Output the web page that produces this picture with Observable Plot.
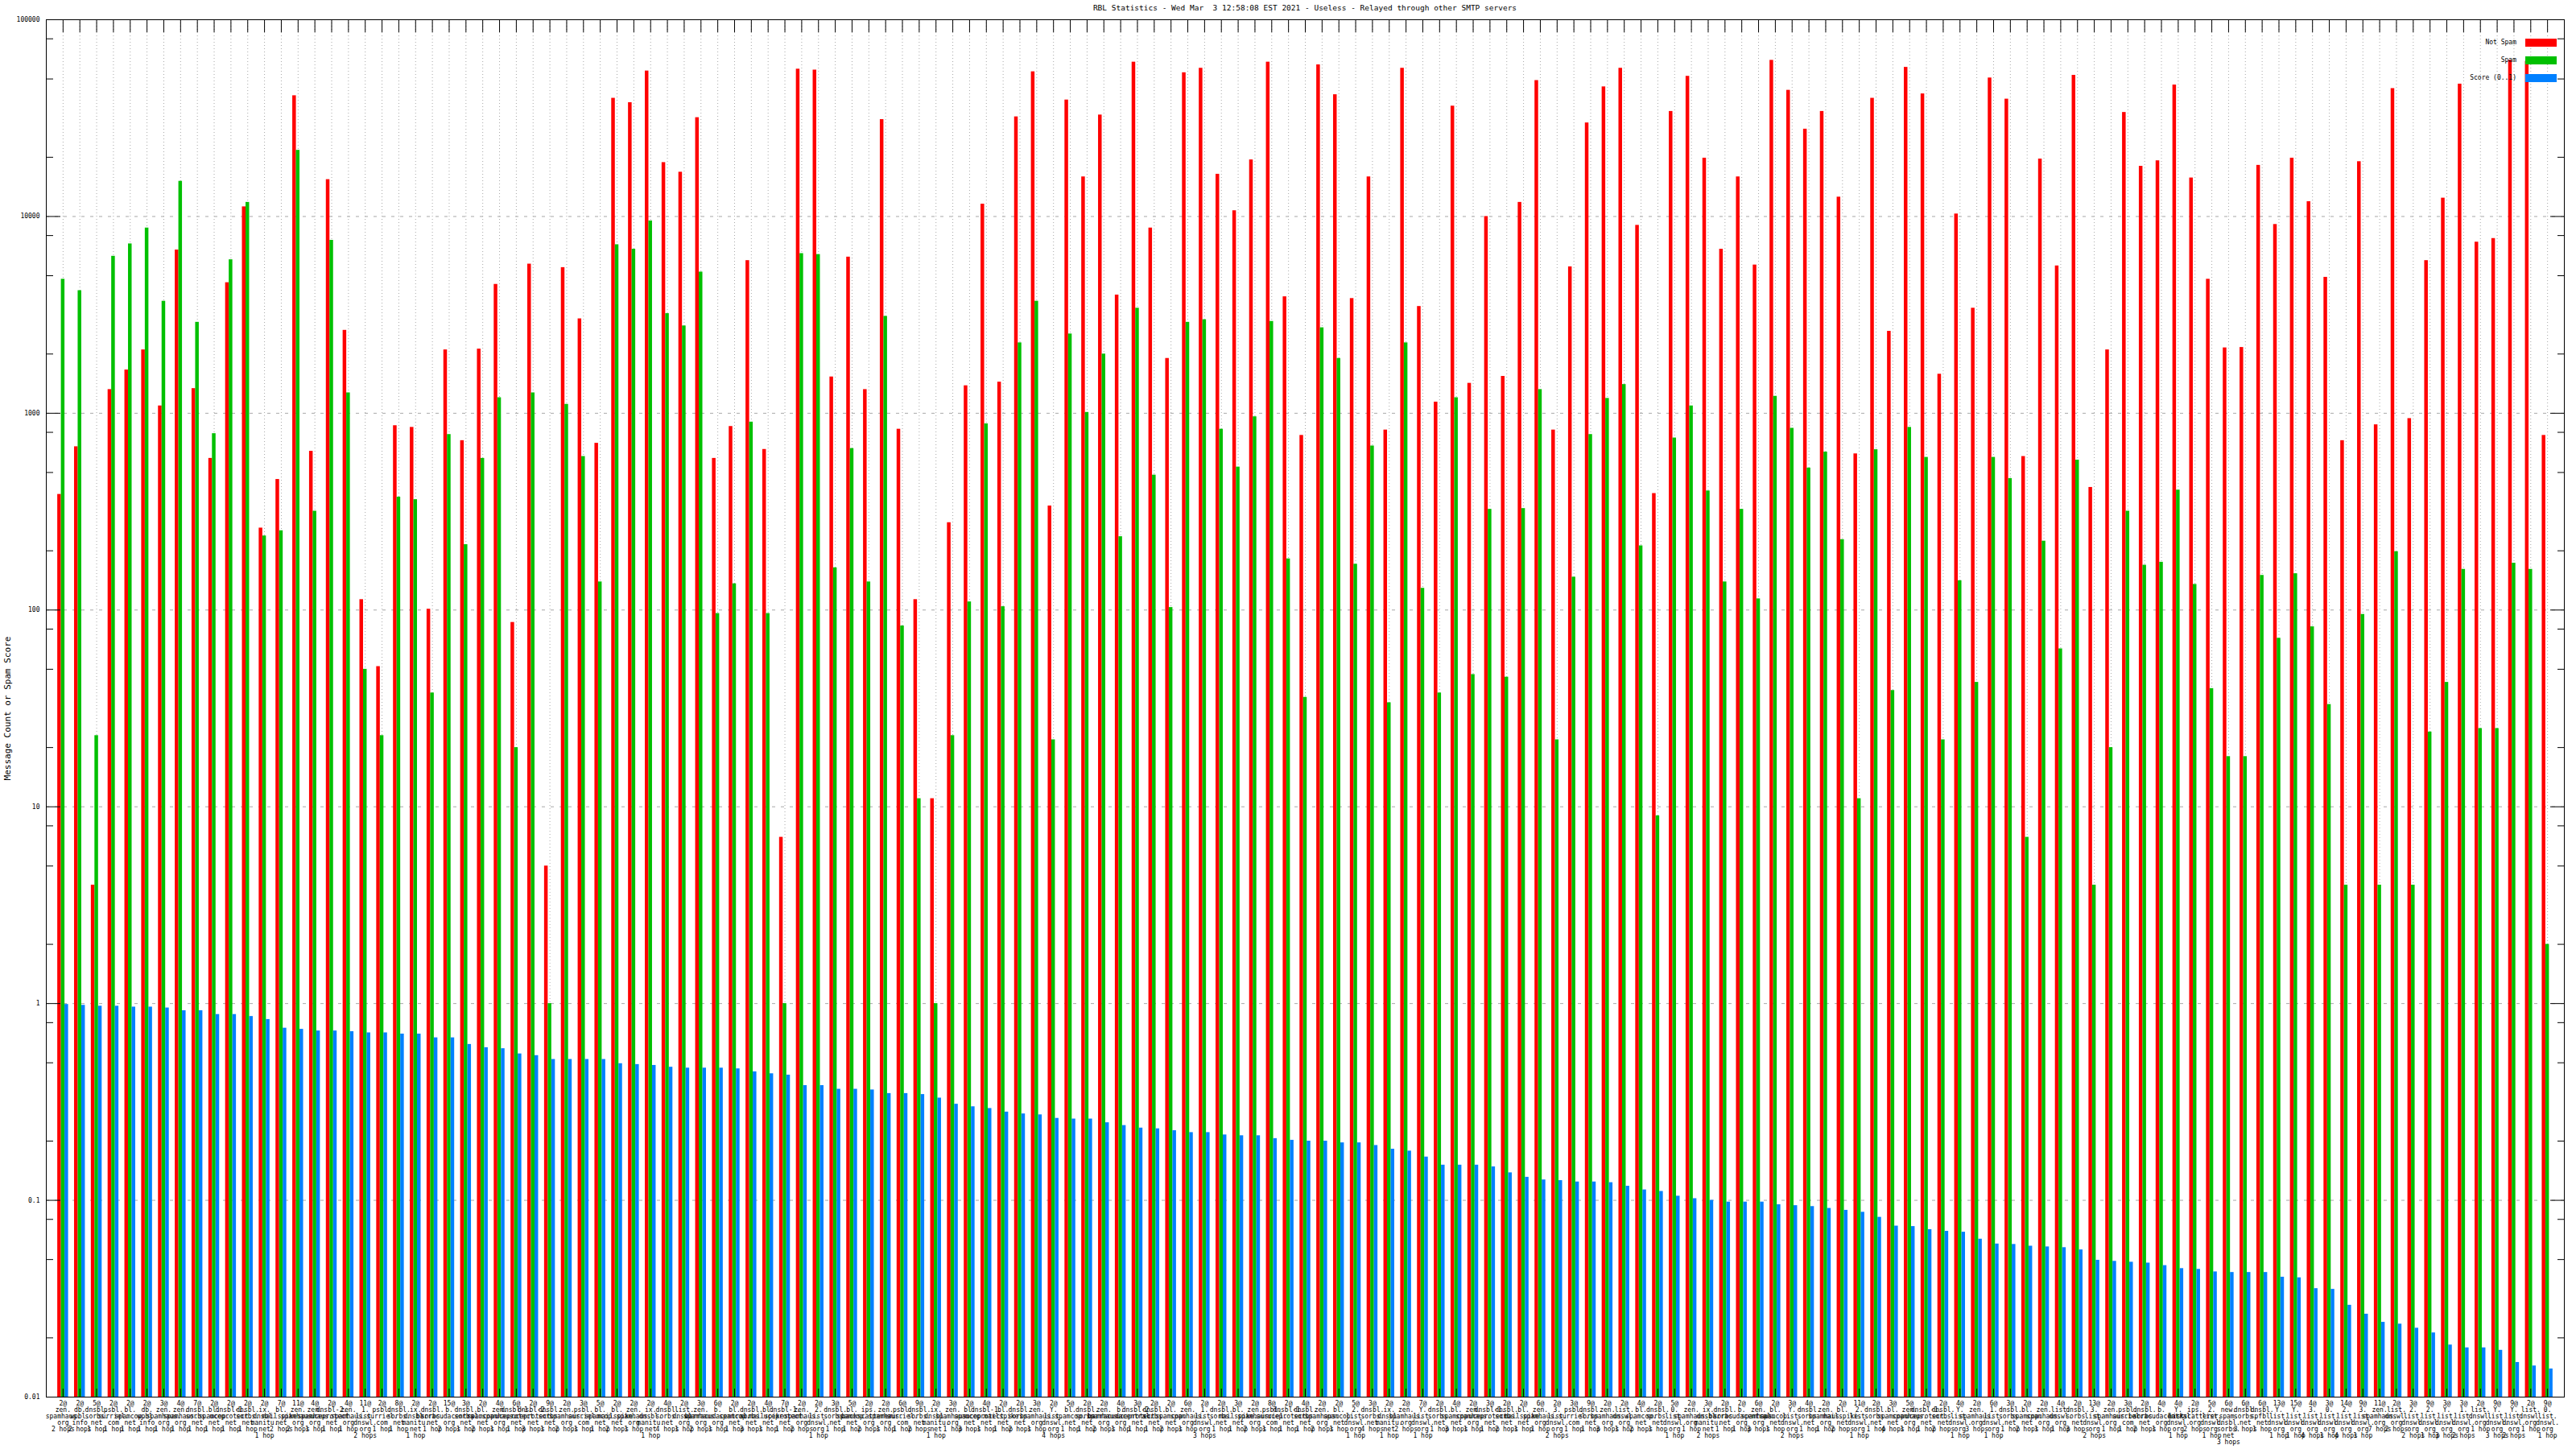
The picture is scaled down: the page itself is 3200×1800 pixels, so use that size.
<!DOCTYPE html>
<html><head><meta charset="utf-8">
<script src="https://cdn.jsdelivr.net/npm/d3@7"></script>
<script src="https://cdn.jsdelivr.net/npm/@observablehq/plot@0.6"></script>
<style>
html,body{margin:0;padding:0;background:#fff;}
#wrap{position:relative;width:3200px;height:1800px;font-family:"DejaVu Sans Mono",monospace;color:#000;overflow:hidden;}
#title{position:absolute;left:57px;width:3128px;top:4px;text-align:center;font-size:9.5px;line-height:12px;white-space:pre;}
#ylabel{position:absolute;left:9px;top:880px;transform:translate(-50%,-50%) rotate(-90deg);font-size:11px;white-space:nowrap;}
#legend{position:absolute;left:0;top:0;}
.lrow{position:absolute;height:10px;}
.ltext{position:absolute;right:50px;top:-1px;font-size:8px;line-height:12px;white-space:pre;text-align:right;}
.lsw{position:absolute;right:0;top:0;width:39px;height:10px;}
#chart svg{display:block;}
</style></head>
<body><div id="wrap"><div id="chart"></div><div id="title"></div><div id="ylabel"></div><div id="legend"></div></div>
<script>
const titleText = "RBL Statistics - Wed Mar  3 12:58:08 EST 2021 - Useless - Relayed through other SMTP servers";
const yLabelText = "Message Count or Spam Score";
const seriesNames = ["Not Spam", "Spam", "Score (0..1)"];
const seriesColors = ["#ff0000", "#00c000", "#0080ff"];
const yMajorTicks = [0.01, 0.1, 1, 10, 100, 1000, 10000, 100000];
const yMinorMultipliers = [2, 5, 8];

const notSpam = [387,676,4,1320,1660,2100,1090,6760,1335,590,4610,11200,261,461,41100,641,15400,2640,113,51.6,865,848,101,2100,726,
2120,4520,86.5,5730,5,5500,3020,704,39900,37900,54900,18800,16800,31800,590,857,5970,655,7,56100,55500,1530,6220,1320,31100,
830,113,11,278,1380,11560,1440,32100,54400,338,39100,15900,32800,3990,60900,8740,1900,53800,56700,16400,10700,19400,60900,3910,772,
59000,41600,3830,15900,822,56700,3490,1140,36400,1420,10000,1540,11800,49100,822,5550,29900,45600,56700,9020,391,34200,51600,19800,6820,
15900,5670,62200,43800,27800,34200,12550,622,39900,2610,57300,42000,1580,10300,3420,50600,39500,603,19600,5610,52200,420,2100,33800,18000,
19200,46600,15700,4800,2150,2160,18200,9110,19800,11900,4910,726,19000,874,44700,940,5970,12400,47100,7410,7730,62200,61500,772];

const spam = [4800,4200,23,6280,7260,8740,3710,15100,2900,788,6030,11800,238,253,21700,318,7570,1270,50,23,375,364,37.9,780,215,
590,1200,20,1270,1,1110,603,139,7190,6820,9500,3210,2780,5220,96,136,902,96,1,6480,6410,164,662,139,3110,
83,11,1,23,110,884,104,2280,3710,21.9,2530,1010,2000,236,3420,485,103,2900,2990,830,533,960,2930,182,36,
2720,1900,171,682,33.8,2280,129,37.9,1200,47,325,45.6,328,1320,21.9,147,780,1190,1400,212,9,749,1090,403,139,
325,114,1220,839,527,635,228,11,653,39,848,597,21.9,141,42.9,597,466,7,224,63.5,578,4,20,318,169,
175,407,135,39.9,18,18,150,71.9,153,82.2,33.1,4,95,4,198,4,24,42.9,161,25,25,173,161,2];

const score = [0.99,0.98,0.97,0.97,0.96,0.96,0.95,0.92,0.92,0.88,0.88,0.86,0.83,0.75,0.74,0.726,0.726,0.72,0.71,0.71,0.70,0.70,0.67,0.67,0.62,
0.597,0.59,0.555,0.544,0.52,0.52,0.52,0.52,0.495,0.49,0.485,0.475,0.47,0.47,0.47,0.466,0.45,0.44,0.433,0.383,0.383,0.367,0.367,0.364,0.349,
0.349,0.345,0.331,0.308,0.299,0.293,0.281,0.275,0.272,0.261,0.259,0.259,0.248,0.24,0.233,0.231,0.226,0.221,0.221,0.215,0.213,0.213,0.206,0.202,0.20,
0.20,0.196,0.196,0.19,0.182,0.178,0.166,0.151,0.151,0.151,0.148,0.138,0.131,0.127,0.126,0.124,0.124,0.123,0.118,0.113,0.111,0.105,0.102,0.10,0.098,
0.098,0.098,0.095,0.094,0.093,0.091,0.089,0.087,0.082,0.074,0.0736,0.071,0.0696,0.0689,0.0635,0.060,0.0597,0.0585,0.058,0.0575,0.056,0.0496,0.049,0.0485,0.048,
0.0466,0.045,0.0446,0.0433,0.043,0.043,0.043,0.0407,0.0404,0.0356,0.0353,0.0293,0.0264,0.024,0.0235,0.0224,0.0212,0.0184,0.0178,0.0178,0.0173,0.015,0.0144,0.0139];

// x tick label parts
const rblNames = ["zen.spamhaus.org","db.wpbl.info","dnsbl.sorbs.net","psbl.surriel.com","bl.spamcop.net","b.barracudacentral.org","dnsbl-1.uceprotect.net","dnsbl-2.uceprotect.net","ix.dnsbl.manitu.net","bl.mailspike.net","ips.backscatterer.org","list.dnswl.org","Y.list.dnswl.org","2.list.dnswl.org","3.list.dnswl.org","0.list.dnswl.org","1.list.dnswl.org","new.spam.dnsbl.sorbs.net","dnsbl.spfbl.net","hostkarma.junkemailfilter.com"];
const rblIndex = [0,1,2,3,4,1,0,0,2,4,6,2,8,9,0,0,7,0,16,3,2,8,2,5,
2,4,0,6,7,2,0,3,4,9,0,8,2,11,0,5,4,2,9,6,0,13,2,4,10,
0,3,2,8,0,4,6,9,2,0,12,4,2,0,5,7,2,4,0,16,2,9,0,3,6,
2,0,4,13,2,8,0,12,2,4,0,6,2,9,0,14,3,2,0,11,4,2,15,0,8,
2,5,0,4,12,2,0,9,13,2,4,0,6,2,12,0,16,2,4,0,11,2,14,0,3,2,5,
12,10,13,17,2,18,12,12,14,15,13,14,0,11,13,13,12,16,11,12,12,11,15];
const atCounts = [2,2,5,2,2,2,3,4,7,2,2,2,2,7,11,4,2,4,11,2,8,2,2,15,
3,2,4,6,2,9,2,3,5,2,2,2,4,2,3,6,2,2,4,7,2,2,3,5,2,
2,6,9,2,3,2,4,2,2,3,2,5,2,2,4,3,2,2,6,2,2,3,2,8,2,
4,2,2,5,3,2,2,7,2,4,2,3,2,2,6,2,3,9,2,2,4,2,5,2,3,
2,2,6,2,3,4,2,2,11,2,3,5,2,2,4,2,6,3,2,2,4,2,13,2,3,2,4,
4,2,5,6,6,6,13,15,4,3,14,9,11,2,3,9,3,3,2,9,9,2,9];
const hopCounts = [2,2,1,1,1,1,1,1,1,1,1,1,1,2,2,1,1,1,2,1,1,1,1,2,
1,2,1,1,3,1,2,1,1,2,1,1,4,1,2,1,1,3,1,1,2,1,1,1,2,
1,1,2,1,1,3,1,1,2,1,4,1,1,2,1,1,1,2,1,3,1,1,2,1,1,
1,2,1,1,4,1,2,1,1,3,1,1,2,1,1,2,1,1,3,1,2,1,1,1,2,
1,1,3,1,2,1,1,2,1,1,4,1,1,2,1,3,1,1,2,1,1,3,2,1,1,2,1,
1,2,1,3,3,1,1,1,4,1,4,1,7,2,2,1,3,2,1,3,2,1,1];

const n = notSpam.length;
const idx = d3.range(n);
const xLabels = idx.map(i => {
  const parts = rblNames[rblIndex[i]].split(".").map((p, j, a) => j < a.length - 1 ? p + "." : p);
  const h = hopCounts[i] === 1 ? "1 hop" : hopCounts[i] + " hops";
  return [atCounts[i] + "@", ...parts, h].join("\n");
});

const series = [notSpam, spam, score];
const rows = idx.flatMap(i => series.map((s, k) => ({i, k, name: seriesNames[k], v: s[i]})));
const barStep = 0.215;
const yMinorTicks = yMajorTicks.slice(0, -1).flatMap(m => yMinorMultipliers.map(f => m * f));
const yGrid = yMajorTicks.slice(1, -1);

const chart = Plot.plot({
  width: 3200, height: 1800,
  marginLeft: 57, marginRight: 15, marginTop: 24, marginBottom: 65,
  x: {type: "linear", domain: [-1, n]},
  y: {type: "log", domain: [yMajorTicks[0], yMajorTicks[yMajorTicks.length - 1]]},
  color: {domain: seriesNames, range: seriesColors},
  style: {fontFamily: "DejaVu Sans Mono, monospace", fontSize: "8px", background: "#fff", color: "#000", overflow: "visible"},
  marks: [
    Plot.gridX(idx, {stroke: "#a8a8a8", strokeOpacity: 1, strokeDasharray: "1,3"}),
    Plot.gridY(yGrid, {stroke: "#a8a8a8", strokeOpacity: 1, strokeDasharray: "4,7"}),
    Plot.rectY(rows, {
      x1: d => d.i + (d.k - 1) * barStep - barStep / 2,
      x2: d => d.i + (d.k - 1) * barStep + barStep / 2,
      y1: yMajorTicks[0], y2: "v", fill: "name", insetLeft: 0, insetRight: 0
    }),
    Plot.frame({stroke: "#000", strokeWidth: 1}),
    Plot.axisX({anchor: "bottom", ticks: idx, tickSize: -10, tickFormat: () => "", label: null}),
    Plot.axisX({anchor: "top", ticks: idx, tickSize: -15, tickFormat: () => "", label: null}),
    Plot.axisX({anchor: "bottom", ticks: idx, tickSize: 0, tickPadding: 5, tickFormat: i => xLabels[i], label: null, fontSize: 8, lineHeight: 1, textOverflow: null}),
    Plot.axisY({anchor: "left", ticks: yMajorTicks, tickSize: -18, tickFormat: () => "", label: null}),
    Plot.axisY({anchor: "left", ticks: yMinorTicks, tickSize: -9, tickFormat: () => "", label: null}),
    Plot.axisY({anchor: "right", ticks: yMajorTicks, tickSize: -18, tickFormat: () => "", label: null}),
    Plot.axisY({anchor: "right", ticks: yMinorTicks, tickSize: -9, tickFormat: () => "", label: null}),
    Plot.axisY({anchor: "left", ticks: yMajorTicks, tickSize: 0, tickPadding: 8, tickFormat: v => String(v), label: null, fontSize: 8})
  ]
});
document.getElementById("chart").appendChild(chart);
document.getElementById("title").textContent = titleText;
document.getElementById("ylabel").textContent = yLabelText;

const legend = document.getElementById("legend");
seriesNames.forEach((name, k) => {
  const row = document.createElement("div");
  row.className = "lrow";
  row.style.left = "2800px"; row.style.width = "376px";
  row.style.top = (48 + k * 22) + "px";
  const t = document.createElement("div"); t.className = "ltext"; t.textContent = name;
  const s = document.createElement("div"); s.className = "lsw"; s.style.background = seriesColors[k];
  row.appendChild(t); row.appendChild(s); legend.appendChild(row);
});
</script></body></html>
